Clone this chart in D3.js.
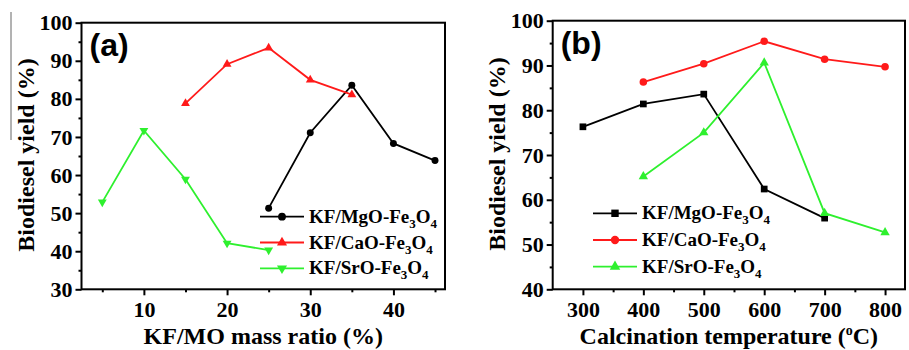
<!DOCTYPE html>
<html>
<head>
<meta charset="utf-8">
<script src="https://cdn.jsdelivr.net/npm/d3@7"></script>
<style>
  body { margin: 0; background: #fff; }
  svg { display: block; }
  text { font-family: "Liberation Serif", "Times New Roman", serif; font-weight: bold; fill: #000; }
</style>
</head>
<body>
<div id="chart"></div>
<script>
// panel (a): yield vs KF/MO mass ratio
const mgoRatio = [25, 30, 35, 40, 45];
const mgoYieldA = [51.3, 71.1, 83.6, 68.3, 63.8];
const caoRatio = [15, 20, 25, 30, 35];
const caoYieldA = [78.8, 89.1, 93.4, 85.0, 81.1];
const sroRatio = [5, 10, 15, 20, 25];
const sroYieldA = [52.9, 71.7, 58.9, 42.1, 40.3];

// panel (b): yield vs calcination temperature
const mgoTemp = [300, 400, 500, 600, 700];
const mgoYieldB = [76.3, 81.4, 83.6, 62.4, 55.9];
const caoTemp = [400, 500, 600, 700, 800];
const caoYieldB = [86.3, 90.4, 95.4, 91.4, 89.7];
const sroTemp = [400, 500, 600, 700, 800];
const sroYieldB = [65.2, 75.0, 90.6, 57.0, 52.7];

const ratioTicks = [10, 20, 30, 40];
const ratioMinor = [5, 15, 25, 35, 45];
const tempTicks = [300, 400, 500, 600, 700, 800];
const tempMinor = [350, 450, 550, 650, 750];
const yTicksA = [30, 40, 50, 60, 70, 80, 90, 100];
const yTicksB = [40, 50, 60, 70, 80, 90, 100];

const BLACK = "#000", RED = "#ff1a1a", GREEN = "#2ef02e";

const svg = d3.select("#chart").append("svg")
    .attr("width", 909)
    .attr("height", 350);

// thin stray line at the far left of the scan
svg.append("line")
    .attr("x1", 11).attr("x2", 11).attr("y1", 12).attr("y2", 140)
    .attr("stroke", "#666").attr("stroke-width", 1);

const zip = (xs, ys) => xs.map((x, i) => ({ x: x, y: ys[i] }));

function symbolPath(kind, size) {
    if (kind === "circle") return d3.symbol(d3.symbolCircle, size)();
    if (kind === "square") return d3.symbol(d3.symbolSquare, size)();
    return d3.symbol(d3.symbolTriangle, size)();
}

function drawPanel(cfg) {
    const x = d3.scaleLinear().domain(cfg.xDomain).range([cfg.left, cfg.right]);
    const y = d3.scaleLinear().domain(cfg.yDomain).range([cfg.bottom, cfg.top]);
    const g = svg.append("g");

    // frame
    g.append("rect")
        .attr("x", cfg.left).attr("y", cfg.top)
        .attr("width", cfg.right - cfg.left).attr("height", cfg.bottom - cfg.top)
        .attr("fill", "none").attr("stroke", "#000").attr("stroke-width", 2);

    // bottom axis
    const xAxis = g.append("g")
        .attr("transform", `translate(0,${cfg.bottom})`)
        .call(d3.axisBottom(x).tickValues(cfg.xTicks).tickSize(6).tickPadding(6));
    xAxis.select(".domain").remove();
    xAxis.selectAll("line").attr("stroke-width", 2);
    xAxis.selectAll("text")
        .style("font-family", "Liberation Serif").style("font-weight", "bold")
        .style("font-size", "22px").attr("fill", "#000");
    g.append("g").attr("transform", `translate(0,${cfg.bottom})`)
        .call(d3.axisBottom(x).tickValues(cfg.xMinor).tickSize(3).tickFormat(""))
        .call(a => a.select(".domain").remove())
        .selectAll("line").attr("stroke-width", 2);

    // left axis
    const yAxis = g.append("g")
        .attr("transform", `translate(${cfg.left},0)`)
        .call(d3.axisLeft(y).tickValues(cfg.yTicks).tickSize(6).tickPadding(3));
    yAxis.select(".domain").remove();
    yAxis.selectAll("line").attr("stroke-width", 2);
    yAxis.selectAll("text")
        .style("font-family", "Liberation Serif").style("font-weight", "bold")
        .style("font-size", "22px").attr("fill", "#000");
    const minorY = cfg.yTicks.slice(0, -1).map(v => v + 5);
    g.append("g").attr("transform", `translate(${cfg.left},0)`)
        .call(d3.axisLeft(y).tickValues(minorY).tickSize(3).tickFormat(""))
        .call(a => a.select(".domain").remove())
        .selectAll("line").attr("stroke-width", 2);

    // series
    const line = d3.line().x(d => x(d.x)).y(d => y(d.y));
    cfg.series.forEach(s => {
        const pts = zip(s.xs, s.ys);
        g.append("path").datum(pts)
            .attr("d", line)
            .attr("fill", "none").attr("stroke", s.color).attr("stroke-width", 1.8);
        g.selectAll(null).data(pts).enter().append("path")
            .attr("d", symbolPath(s.marker, s.size))
            .attr("transform", d => `translate(${x(d.x)},${y(d.y)})${s.flip ? " rotate(180)" : ""}`)
            .attr("fill", s.color);
    });

    // legend
    cfg.series.forEach((s, i) => {
        const ly = cfg.legendY + i * cfg.legendGap;
        g.append("line")
            .attr("x1", cfg.legendX).attr("x2", cfg.legendX + 44)
            .attr("y1", ly).attr("y2", ly)
            .attr("stroke", s.color).attr("stroke-width", 1.8);
        g.append("path")
            .attr("d", symbolPath(s.marker, s.size + 10))
            .attr("transform", `translate(${cfg.legendX + 22},${ly})${s.flip ? " rotate(180)" : ""}`)
            .attr("fill", s.color);
        const t = g.append("text")
            .attr("x", cfg.legendX + 49).attr("y", ly + 6)
            .style("font-size", "19px");
        t.append("tspan").text(s.label[0]);
        t.append("tspan").text("3").attr("dy", 5).style("font-size", "13px");
        t.append("tspan").text("O").attr("dy", -5);
        t.append("tspan").text("4").attr("dy", 5).style("font-size", "13px");
    });

    // panel letter
    g.append("text")
        .attr("x", cfg.left + 8).attr("y", cfg.top + 33)
        .style("font-family", "Liberation Sans").style("font-size", "32px")
        .text(cfg.letter);

    // axis titles
    const xt = g.append("text")
        .attr("x", (cfg.left + cfg.right) / 2).attr("y", 344)
        .attr("text-anchor", "middle")
        .style("font-size", "24px");
    cfg.xTitle(xt);

    g.append("text")
        .attr("transform", `translate(${cfg.left - 48},${(cfg.top + cfg.bottom) / 2 - 1}) rotate(-90)`)
        .attr("text-anchor", "middle")
        .style("font-size", "24px")
        .text("Biodiesel yield (%)");
}

drawPanel({
    left: 81.5, right: 445, top: 22.7, bottom: 289.3,
    xDomain: [2.5, 46.2], yDomain: [30, 100],
    xTicks: ratioTicks, xMinor: ratioMinor, yTicks: yTicksA,
    letter: "(a)",
    legendX: 260, legendY: 216.7, legendGap: 25.8,
    series: [
        { xs: mgoRatio, ys: mgoYieldA, color: BLACK, marker: "circle", size: 38, label: ["KF/MgO-Fe"] },
        { xs: caoRatio, ys: caoYieldA, color: RED, marker: "triangle", size: 34, label: ["KF/CaO-Fe"] },
        { xs: sroRatio, ys: sroYieldA, color: GREEN, marker: "triangle", size: 34, flip: true, label: ["KF/SrO-Fe"] }
    ],
    xTitle: t => t.text("KF/MO mass ratio (%)")
});

drawPanel({
    left: 552.7, right: 905, top: 20.7, bottom: 289.3,
    xDomain: [250, 833], yDomain: [40, 100],
    xTicks: tempTicks, xMinor: tempMinor, yTicks: yTicksB,
    letter: "(b)",
    legendX: 593, legendY: 213.3, legendGap: 26.7,
    series: [
        { xs: mgoTemp, ys: mgoYieldB, color: BLACK, marker: "square", size: 45, label: ["KF/MgO-Fe"] },
        { xs: caoTemp, ys: caoYieldB, color: RED, marker: "circle", size: 45, label: ["KF/CaO-Fe"] },
        { xs: sroTemp, ys: sroYieldB, color: GREEN, marker: "triangle", size: 38, label: ["KF/SrO-Fe"] }
    ],
    xTitle: t => {
        t.append("tspan").text("Calcination temperature (");
        t.append("tspan").text("o").attr("dy", -9).style("font-size", "14px");
        t.append("tspan").text("C)").attr("dy", 9);
    }
});
</script>
</body>
</html>
